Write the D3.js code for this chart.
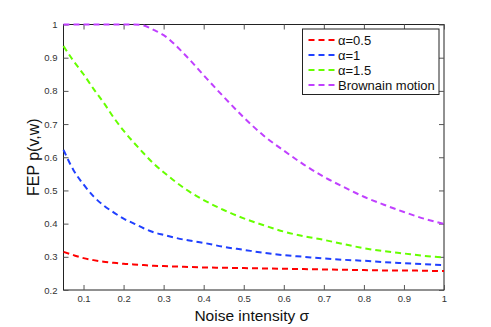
<!DOCTYPE html>
<html>
<head>
<meta charset="utf-8">
<script src="https://cdn.jsdelivr.net/npm/d3@7"></script>
<style>
  body { margin: 0; background: #fff; }
  svg { display: block; font-family: "Liberation Sans", Arial, sans-serif; }
</style>
</head>
<body>
<svg id="chart"></svg>
<script>
// Data
const sigma = [0.05, 0.075, 0.1, 0.125, 0.15, 0.175, 0.2, 0.225, 0.25, 0.275, 0.3, 0.35, 0.4,
  0.45, 0.5, 0.55, 0.6, 0.65, 0.7, 0.75, 0.8, 0.85, 0.9, 0.95, 1];
const alpha05 = [0.315, 0.305, 0.296, 0.290, 0.285, 0.282, 0.279, 0.277, 0.275, 0.273, 0.272, 0.270, 0.268,
  0.267, 0.266, 0.265, 0.264, 0.263, 0.262, 0.261, 0.260, 0.259, 0.259, 0.258, 0.257];
const alpha1 = [0.622, 0.561, 0.518, 0.482, 0.455, 0.434, 0.415, 0.401, 0.386, 0.374, 0.366, 0.352, 0.342,
  0.330, 0.321, 0.312, 0.305, 0.300, 0.295, 0.291, 0.288, 0.284, 0.281, 0.278, 0.275];
const alpha15 = [0.935, 0.89, 0.85, 0.806, 0.765, 0.72, 0.68, 0.645, 0.612, 0.581, 0.555, 0.508, 0.471,
  0.441, 0.416, 0.395, 0.376, 0.362, 0.351, 0.338, 0.326, 0.317, 0.31, 0.303, 0.298];
const brownian = [1, 1, 1, 1, 1, 1, 1, 1, 0.997, 0.984, 0.968, 0.913, 0.847,
  0.782, 0.72, 0.665, 0.62, 0.578, 0.541, 0.51, 0.481, 0.457, 0.435, 0.415, 0.399];

const seriesNames = ['\u03b1=0.5', '\u03b1=1', '\u03b1=1.5', 'Brownain motion'];
const seriesValues = [alpha05, alpha1, alpha15, brownian];
const seriesColors = ['#ff0000', '#2040ff', '#66ff00', '#c040ff'];

const xTicks = [0.1, 0.2, 0.3, 0.4, 0.5, 0.6, 0.7, 0.8, 0.9, 1];
const yTicks = [0.2, 0.3, 0.4, 0.5, 0.6, 0.7, 0.8, 0.9, 1];

// Chart dimensions
const W = 491, H = 327;
const margin = { top: 24.5, right: 47, bottom: 37, left: 63.5 };
const width = W - margin.left - margin.right;
const height = H - margin.top - margin.bottom;

const svg = d3.select('#chart').attr('width', W).attr('height', H);
const g = svg.append('g').attr('transform', `translate(${margin.left},${margin.top})`);

const x = d3.scaleLinear().domain([0.05, 1]).range([0, width]);
const y = d3.scaleLinear().domain([0.2, 1]).range([height, 0]);

const fmt = d => (d === 1 ? '1' : d3.format('.1f')(d));

// Frame first so the curves sit on top of it
g.append('rect')
  .attr('width', width).attr('height', height)
  .attr('fill', 'none').attr('stroke', '#222').attr('stroke-width', 1);

// Axes, ticks pointing inward on all four sides
function styleAxis(sel) {
  sel.select('.domain').remove();
  sel.selectAll('.tick line').attr('stroke', '#555');
  sel.selectAll('.tick text').attr('fill', '#333').style('font-size', '9.5px');
}

g.append('g').attr('transform', `translate(0,${height})`)
  .call(d3.axisBottom(x).tickValues(xTicks).tickFormat(fmt).tickSizeInner(-5).tickSizeOuter(0).tickPadding(5))
  .call(styleAxis);
g.append('g')
  .call(d3.axisTop(x).tickValues(xTicks).tickFormat('').tickSizeInner(-5).tickSizeOuter(0))
  .call(styleAxis);
g.append('g')
  .call(d3.axisLeft(y).tickValues(yTicks).tickFormat(fmt).tickSizeInner(-5).tickSizeOuter(0).tickPadding(6))
  .call(styleAxis);
g.append('g').attr('transform', `translate(${width},0)`)
  .call(d3.axisRight(y).tickValues(yTicks).tickFormat('').tickSizeInner(-5).tickSizeOuter(0))
  .call(styleAxis);

// Lines
const line = d3.line()
  .x((d, i) => x(sigma[i]))
  .y(d => y(d))
  .curve(d3.curveMonotoneX);

seriesValues.forEach((vals, k) => {
  g.append('path')
    .datum(vals)
    .attr('fill', 'none')
    .attr('stroke', seriesColors[k])
    .attr('stroke-width', 2)
    .attr('stroke-dasharray', '6,4')
    .attr('d', line);
});

// Axis labels
svg.append('text')
  .attr('x', margin.left + width / 2 - 2).attr('y', 321)
  .attr('text-anchor', 'middle')
  .style('font-size', '15.5px').attr('fill', '#111')
  .text('Noise intensity \u03c3');

svg.append('text')
  .attr('transform', `translate(39,${margin.top + height / 2}) rotate(-90)`)
  .attr('text-anchor', 'middle')
  .style('font-size', '16px').attr('fill', '#111')
  .text('FEP p(v,w)');

// Legend
const legend = svg.append('g').attr('transform', 'translate(302.5,29)');
legend.append('rect')
  .attr('width', 136.5).attr('height', 65.5)
  .attr('fill', '#fff').attr('stroke', '#222').attr('stroke-width', 1);

seriesNames.forEach((name, k) => {
  const ry = 11 + k * 15;
  legend.append('line')
    .attr('x1', 6).attr('x2', 34).attr('y1', ry).attr('y2', ry)
    .attr('stroke', seriesColors[k]).attr('stroke-width', 2)
    .attr('stroke-dasharray', '6,4');
  legend.append('text')
    .attr('x', 35.5).attr('y', ry + 4.5)
    .style('font-size', '13px').attr('fill', '#111')
    .text(name);
});
</script>
</body>
</html>
